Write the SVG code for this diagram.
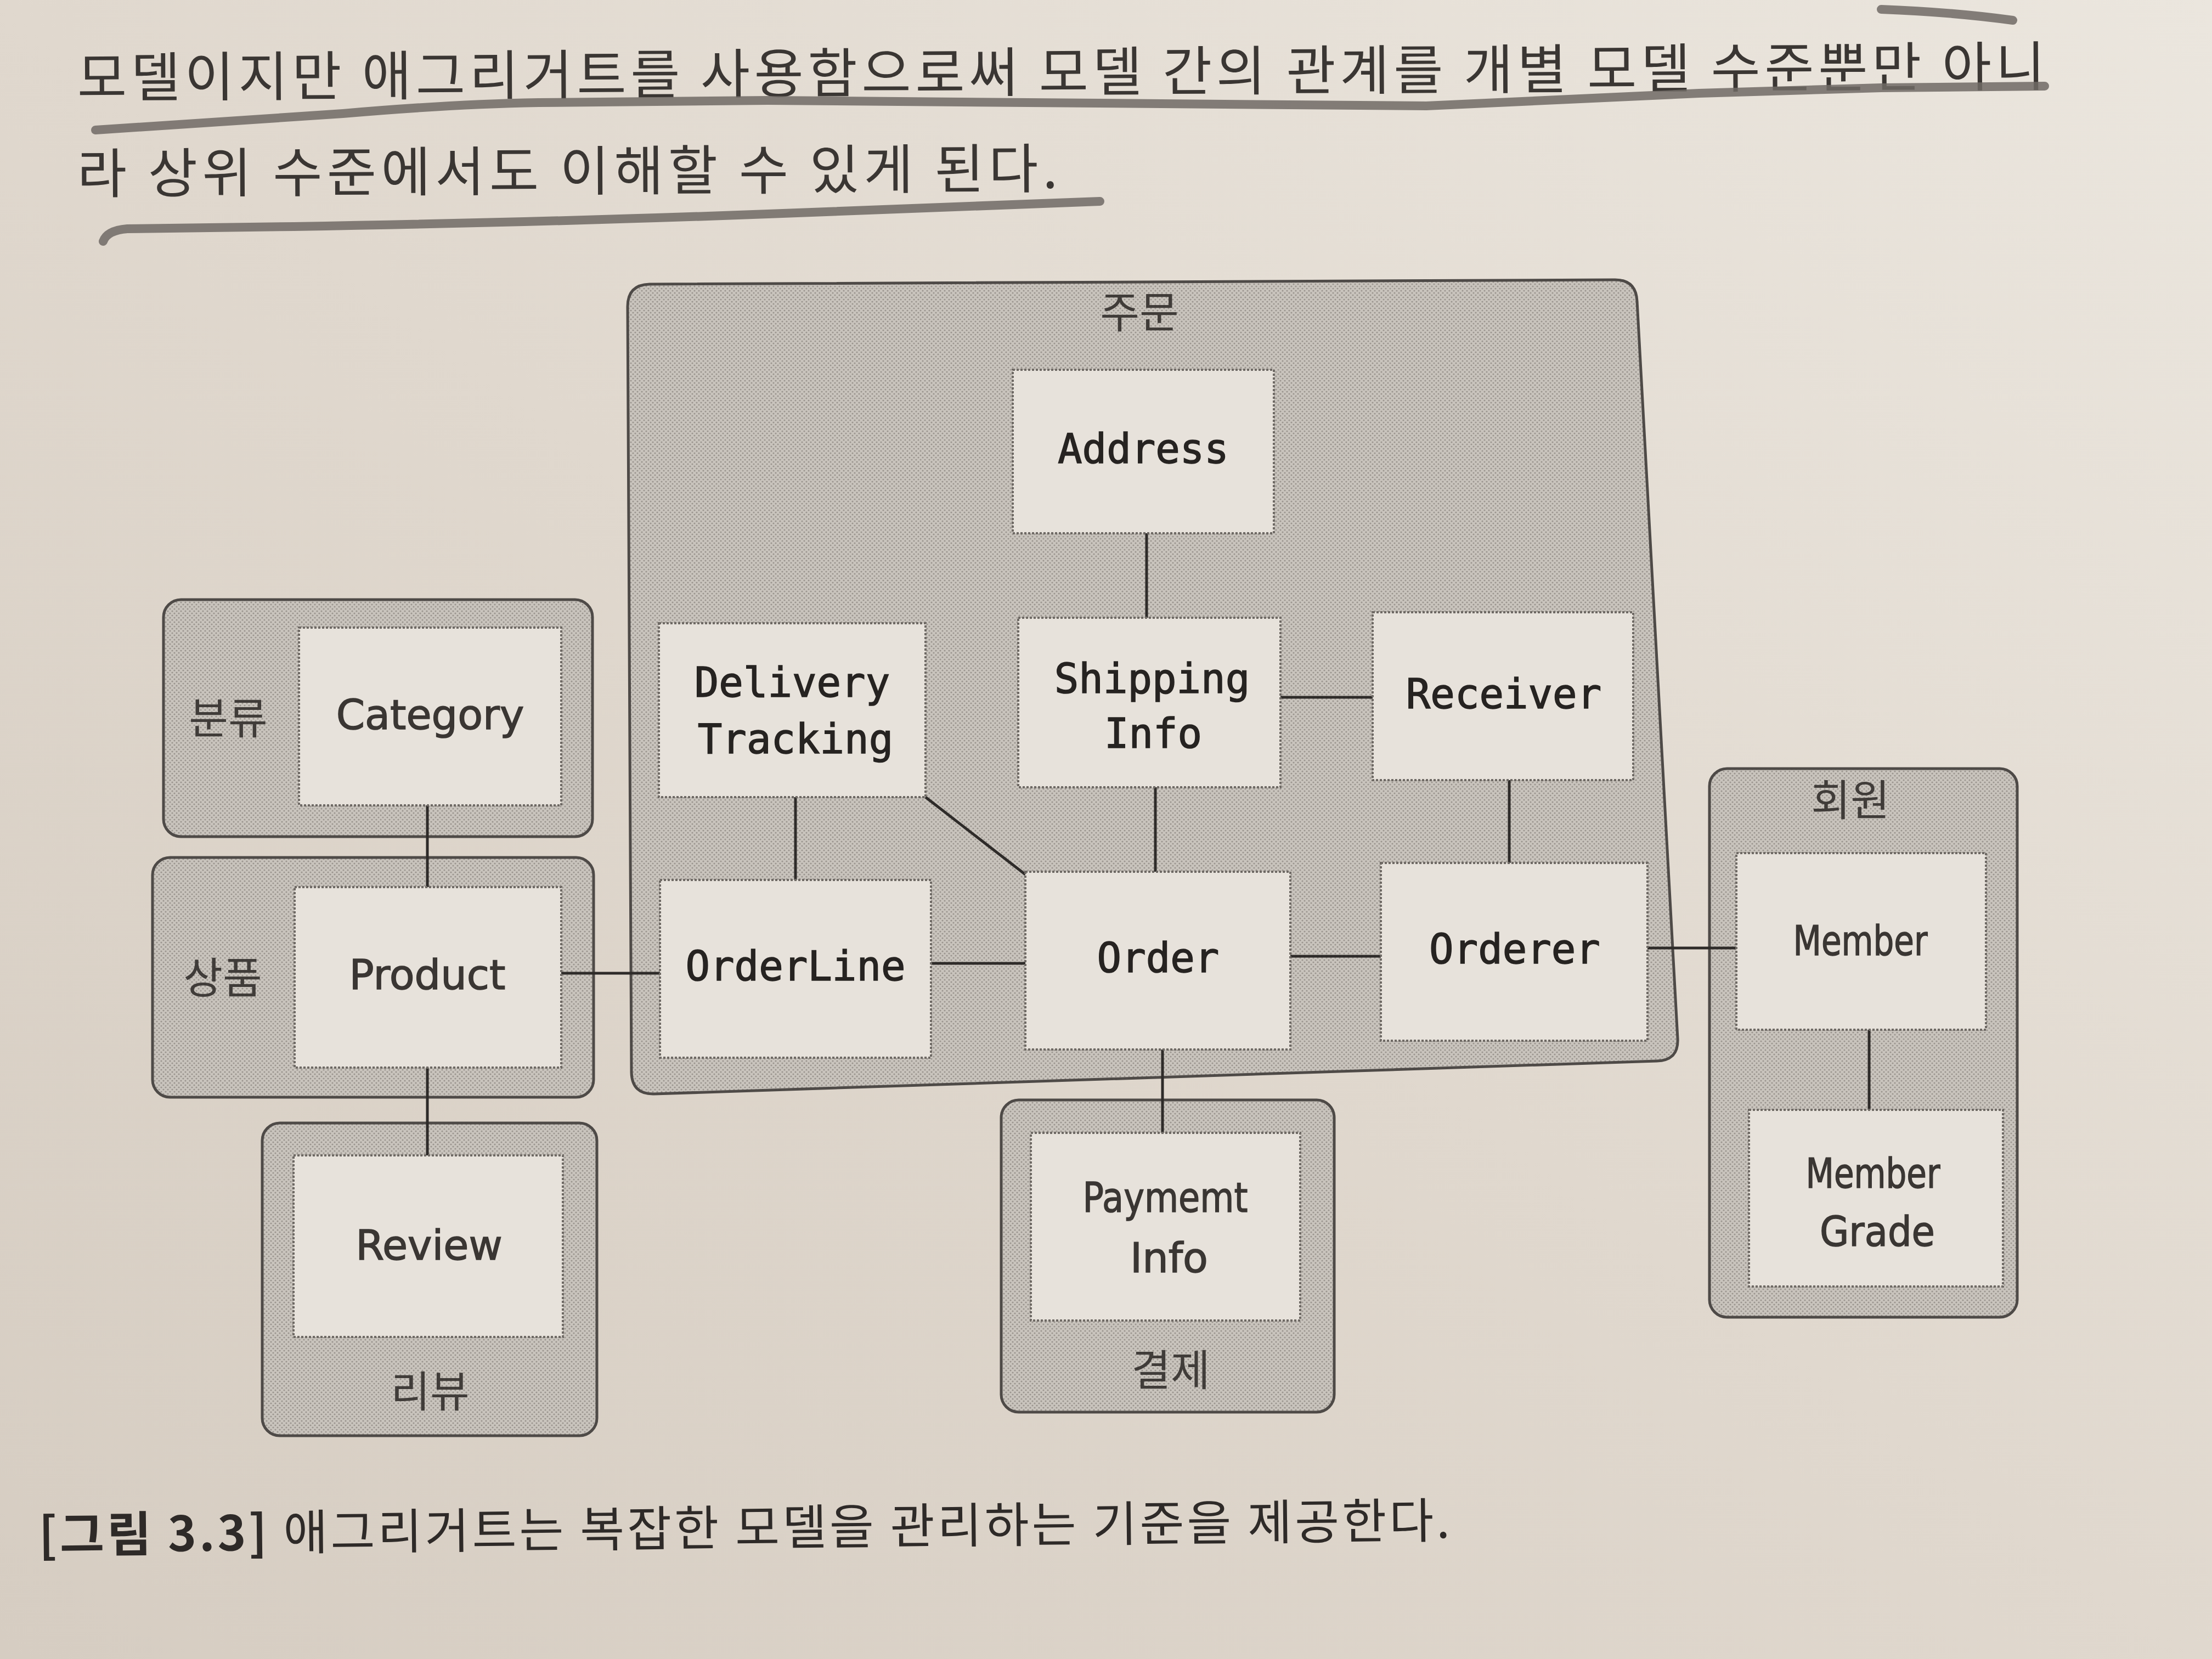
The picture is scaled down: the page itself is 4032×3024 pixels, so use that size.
<svg xmlns="http://www.w3.org/2000/svg" width="4032" height="3024" viewBox="0 0 4032 3024">
<defs>
<linearGradient id="page" x1="0" y1="1" x2="1" y2="0">
<stop offset="0" stop-color="#d6cdc2"/>
<stop offset="0.5" stop-color="#e0d8ce"/>
<stop offset="1" stop-color="#ebe6de"/>
</linearGradient>
<pattern id="dots" width="8" height="8" patternUnits="userSpaceOnUse">
<rect width="8" height="8" fill="#c9c4bd"/>
<circle cx="2" cy="2" r="1.6" fill="#9b958f"/>
<circle cx="6" cy="6" r="1.6" fill="#9b958f"/>
</pattern>
<style>
.grp{fill:url(#dots);stroke:#4e4a47;stroke-width:5}
.node{fill:#e7e2db;stroke:#6e6964;stroke-width:4;stroke-dasharray:4 3}
.mono{font-family:"DejaVu Sans Mono","Liberation Mono",monospace;font-size:74px;fill:#262321;stroke:#262321;stroke-width:1.5;text-anchor:middle}
.sans{font-family:"DejaVu Sans","Liberation Sans",sans-serif;font-size:75px;fill:#3a3633;stroke:#3a3633;stroke-width:1.5;text-anchor:middle}
.ko{font-family:"Noto Sans CJK KR","Noto Sans",sans-serif;font-size:78px;fill:#403c39;text-anchor:middle}
.body{font-family:"Noto Sans CJK KR","Noto Sans",sans-serif;font-size:98px;fill:#3a3633;font-weight:400}
.cap{font-family:"Noto Sans CJK KR","Noto Sans",sans-serif;font-size:88px;fill:#2e2a28}
.hl{fill:none;stroke:#706a65;stroke-width:16;stroke-linecap:round;stroke-linejoin:round;opacity:0.85}
.cn{stroke:#2e2b29;stroke-width:5;fill:none}
</style>
</defs>
<rect width="4032" height="3024" fill="url(#page)"/>

<g id="body-text">
<text class="body" x="141" y="177" textLength="3587" lengthAdjust="spacing" transform="rotate(-0.33 141 177)">모델이지만 애그리거트를 사용함으로써 모델 간의 관계를 개별 모델 수준뿐만 아니</text>
<text class="body" x="141" y="352" textLength="1787" lengthAdjust="spacing" transform="rotate(-0.3 141 352)">라 상위 수준에서도 이해할 수 있게 된다.</text>
<path class="hl" d="M3429,17 Q3560,22 3669,37"/>
<path class="hl" d="M174,237 Q400,222 625,207 Q820,190 982,187 L1400,183 Q2000,188 2600,193 Q2900,180 3097,170 L3429,160 L3727,157"/>
<path class="hl" d="M188,440 Q195,420 232,417 L536,413 Q1000,405 1400,390 L2005,367"/>
</g>

<g id="group-order">
<path class="grp" d="M1184,518 L2942,510 Q2982,509 2984,549 L3058,1893 Q3060,1933 3020,1934 L1192,1994 Q1152,1995 1151,1955 L1144,559 Q1144,519 1184,518 Z"/>
<text class="ko" x="2077" y="598">주문</text>
</g>
<g id="group-category">
<rect class="grp" x="298" y="1093" width="782" height="432" rx="32"/>
<text class="ko" x="416" y="1338">분류</text>
</g>
<g id="group-product">
<rect class="grp" x="278" y="1563" width="804" height="437" rx="32"/>
<text class="ko" x="406" y="1811">상품</text>
</g>
<g id="group-review">
<rect class="grp" x="478" y="2047" width="610" height="570" rx="32"/>
<text class="ko" x="784" y="2565">리뷰</text>
</g>
<g id="group-payment">
<rect class="grp" x="1825" y="2005" width="607" height="569" rx="32"/>
<text class="ko" x="2134" y="2526">결제</text>
</g>
<g id="group-member">
<rect class="grp" x="3116" y="1401" width="561" height="1000" rx="32"/>
<text class="ko" x="3373" y="1487">회원</text>
</g>

<g id="connectors">
<line class="cn" x1="2090" y1="972" x2="2090" y2="1126"/>
<line class="cn" x1="2334" y1="1271" x2="2502" y2="1271"/>
<line class="cn" x1="1450" y1="1453" x2="1450" y2="1604"/>
<line class="cn" x1="1687" y1="1453" x2="1869" y2="1594"/>
<line class="cn" x1="2106" y1="1435" x2="2106" y2="1589"/>
<line class="cn" x1="2751" y1="1422" x2="2751" y2="1573"/>
<line class="cn" x1="1697" y1="1756" x2="1869" y2="1756"/>
<line class="cn" x1="2352" y1="1743" x2="2517" y2="1743"/>
<line class="cn" x1="3003" y1="1728" x2="3165" y2="1728"/>
<line class="cn" x1="1023" y1="1774" x2="1203" y2="1774"/>
<line class="cn" x1="779" y1="1468" x2="779" y2="1617"/>
<line class="cn" x1="779" y1="1946" x2="779" y2="2106"/>
<line class="cn" x1="2119" y1="1913" x2="2119" y2="2065"/>
<line class="cn" x1="3407" y1="1877" x2="3407" y2="2023"/>
</g>

<g id="node-address">
<rect class="node" x="1846" y="674" width="476" height="298"/>
<text class="mono" x="2084" y="844">Address</text>
</g>
<g id="node-delivery-tracking">
<rect class="node" x="1201" y="1136" width="486" height="317"/>
<text class="mono" x="1444" y="1270">Delivery</text>
<text class="mono" x="1450" y="1373">Tracking</text>
</g>
<g id="node-shipping-info">
<rect class="node" x="1856" y="1126" width="478" height="309"/>
<text class="mono" x="2100" y="1263">Shipping</text>
<text class="mono" x="2102" y="1363">Info</text>
</g>
<g id="node-receiver">
<rect class="node" x="2502" y="1116" width="475" height="306"/>
<text class="mono" x="2741" y="1291">Receiver</text>
</g>
<g id="node-orderline">
<rect class="node" x="1203" y="1604" width="494" height="324"/>
<text class="mono" x="1450" y="1787">OrderLine</text>
</g>
<g id="node-order">
<rect class="node" x="1869" y="1589" width="483" height="324"/>
<text class="mono" x="2111" y="1772">Order</text>
</g>
<g id="node-orderer">
<rect class="node" x="2517" y="1573" width="486" height="324"/>
<text class="mono" x="2761" y="1756">Orderer</text>
</g>
<g id="node-category">
<rect class="node" x="545" y="1144" width="478" height="324"/>
<text class="sans" x="784" y="1329">Category</text>
</g>
<g id="node-product">
<rect class="node" x="537" y="1617" width="486" height="329"/>
<text class="sans" x="779" y="1803">Product</text>
</g>
<g id="node-review">
<rect class="node" x="535" y="2106" width="491" height="331"/>
<text class="sans" x="782" y="2296">Review</text>
</g>
<g id="node-payment-info">
<rect class="node" x="1879" y="2065" width="491" height="342"/>
<text class="sans" x="2124" y="2209" textLength="301" lengthAdjust="spacingAndGlyphs">Paymemt</text>
<text class="sans" x="2131" y="2319">Info</text>
</g>
<g id="node-member">
<rect class="node" x="3165" y="1555" width="455" height="322"/>
<text class="sans" x="3391" y="1741" textLength="245" lengthAdjust="spacingAndGlyphs">Member</text>
</g>
<g id="node-member-grade">
<rect class="node" x="3188" y="2023" width="463" height="322"/>
<text class="sans" x="3414" y="2165" textLength="245" lengthAdjust="spacingAndGlyphs">Member</text>
<text class="sans" x="3422" y="2271" textLength="210" lengthAdjust="spacingAndGlyphs">Grade</text>
</g>

<g id="caption" transform="rotate(-0.6 71 2830)">
<text class="cap" x="71" y="2830" textLength="2572" lengthAdjust="spacing"><tspan font-weight="bold">[그림 3.3]</tspan> 애그리거트는 복잡한 모델을 관리하는 기준을 제공한다.</text>
</g>
</svg>
